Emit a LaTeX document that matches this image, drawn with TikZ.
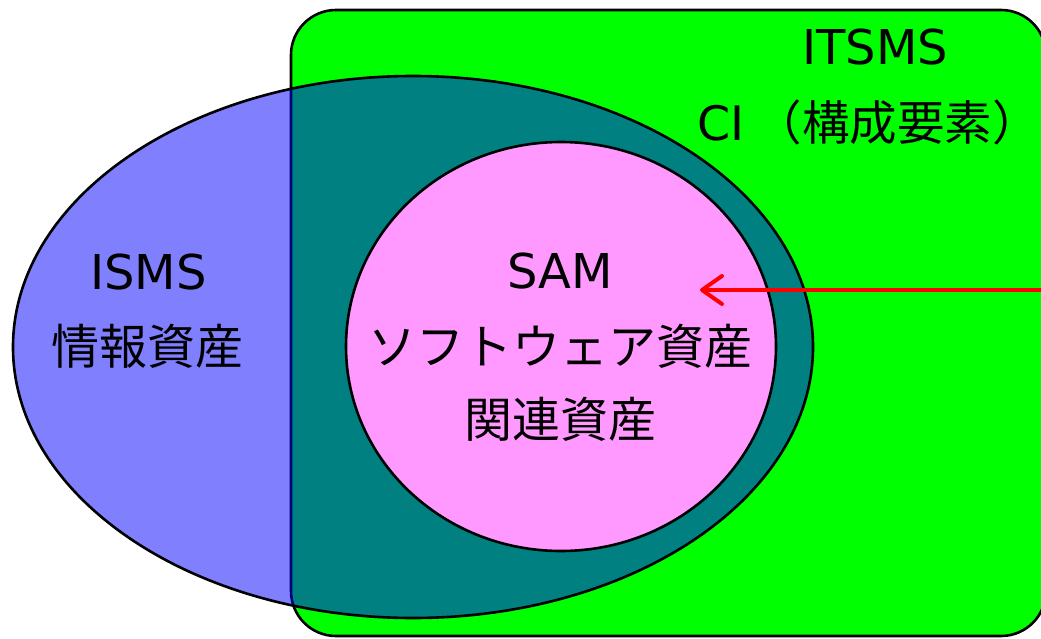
\documentclass[tikz,border=0pt]{standalone}
\usepackage{fontspec}
\setmainfont{DejaVu Sans}
\newfontfamily\cjk{Noto Sans CJK JP}
\usetikzlibrary{arrows.meta}
\definecolor{itgreen}{RGB}{0,255,0}
\definecolor{ismsblue}{RGB}{128,128,255}
\definecolor{overlapteal}{RGB}{0,128,128}
\definecolor{sampink}{RGB}{255,153,255}
\definecolor{edgenavy}{RGB}{0,0,128}
\definecolor{arrowred}{RGB}{255,0,0}
\tikzset{
  lbl/.style={inner sep=0pt, outer sep=0pt, anchor=base, font=\fontsize{48}{56}\selectfont},
  outline/.style={line width=2.6pt, draw=black},
  pointer/.style={draw=arrowred, line width=4pt, -{Straight Barb[length=20pt,width=28pt,line cap=round,line join=round]}}
}
\begin{document}
\begin{tikzpicture}[x=1pt,y=-1pt]
\useasboundingbox (0,0) rectangle (1041,639);
\clip (0,0) rectangle (1041,639);
% ITSMS CI rectangle
\path[fill=itgreen, outline, rounded corners=45pt] (291,10) rectangle (1046,636);
% ISMS ellipse
\fill[ismsblue] (413,347) ellipse [x radius=400, y radius=271];
\begin{scope}
  \clip (413,347) ellipse [x radius=400, y radius=271];
  \path[fill=overlapteal, draw=edgenavy, line width=2.6pt, rounded corners=45pt] (291,10) rectangle (1046,636);
\end{scope}
\draw[outline] (413,347) ellipse [x radius=400, y radius=271];
% SAM ellipse
\path[fill=sampink, outline] (561,346.5) ellipse [x radius=215, y radius=204.5];
% labels
\node[lbl] (itsms) at (875,65) {ITSMS};
\node[lbl, anchor=base west, font=\fontsize{47.5}{56}\selectfont] (ci) at (697,140.5) {CI\hspace{0.22em}{\cjk （構成要素）}};
\node[lbl] (isms) at (148.5,289) {ISMS};
\node[lbl] (joho) at (147.5,364.5) {\cjk 情報資産};
\node[lbl] (sam) at (560,288) {SAM};
\node[lbl] (soft) at (560,364) {\cjk ソフトウェア資産};
\node[lbl] (kanren) at (560,437.5) {\cjk 関連資産};
% arrow
\coordinate (arrstart) at (1045,290);
\coordinate (arrtip) at (700,290);
\draw[pointer] (arrstart) -- (arrtip);
\end{tikzpicture}
\end{document}
